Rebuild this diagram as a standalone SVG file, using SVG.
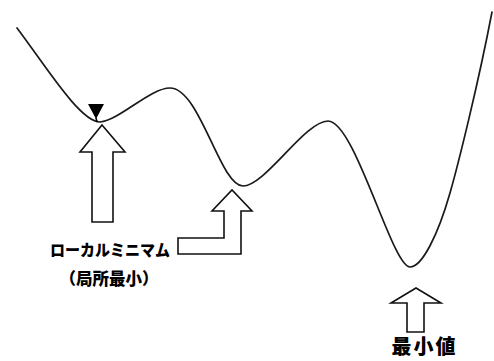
<svg xmlns="http://www.w3.org/2000/svg" width="494" height="361" viewBox="0 0 494 361">
<style>
.curve{fill:none;stroke:#1a1a1a;stroke-width:1.7;stroke-linejoin:round;stroke-linecap:round}
.arrow{fill:#fff;stroke:#111;stroke-width:1.6;stroke-linejoin:miter}
.lbl{font-family:"Noto Sans CJK JP","Noto Sans CJK SC",sans-serif;font-weight:900;fill:#000}
</style>
<rect width="494" height="361" fill="#fff"/>
<g id="curve">
<path class="curve" d="M17,28 C45,65 80,122 100,122 C120,120 150,88 170,88 C200,88 220,186 243,186 C265,186 305,121 328,121 C355,121 392,267 410,267 C422,267 438,235 450,193 C458,165 478,85 492,12"/>
</g>
<g id="marker">
<polygon points="88,104 104,104 96,119" fill="#000"/>
<line x1="96" y1="118" x2="97" y2="122" stroke="#000" stroke-width="1.5"/>
</g>
<g id="connectors">
<path id="arrow-local" class="arrow" d="M92,222 L92,152 L80,152 L102,125 L125,152 L113,152 L113,222 Z"/>
<path id="arrow-second" class="arrow" d="M178,238 L224,238 L224,211 L212,211 L232,190 L252,211 L241,211 L241,254 L178,254 Z"/>
<path id="arrow-global" class="arrow" d="M407,332 L407,303 L391,303 L416,288 L441,303 L424,303 L424,332 Z"/>
</g>
<g id="label-local">
<text class="lbl" x="50" y="256" font-size="16" textLength="120" lengthAdjust="spacingAndGlyphs">ローカルミニマム</text>
<text class="lbl" x="109" y="285" font-size="16.5" text-anchor="middle">（局所最小）</text>
</g>
<g id="label-global">
<text class="lbl" x="423.5" y="354" font-size="20" text-anchor="middle" textLength="64" lengthAdjust="spacing">最小値</text>
</g>
</svg>
